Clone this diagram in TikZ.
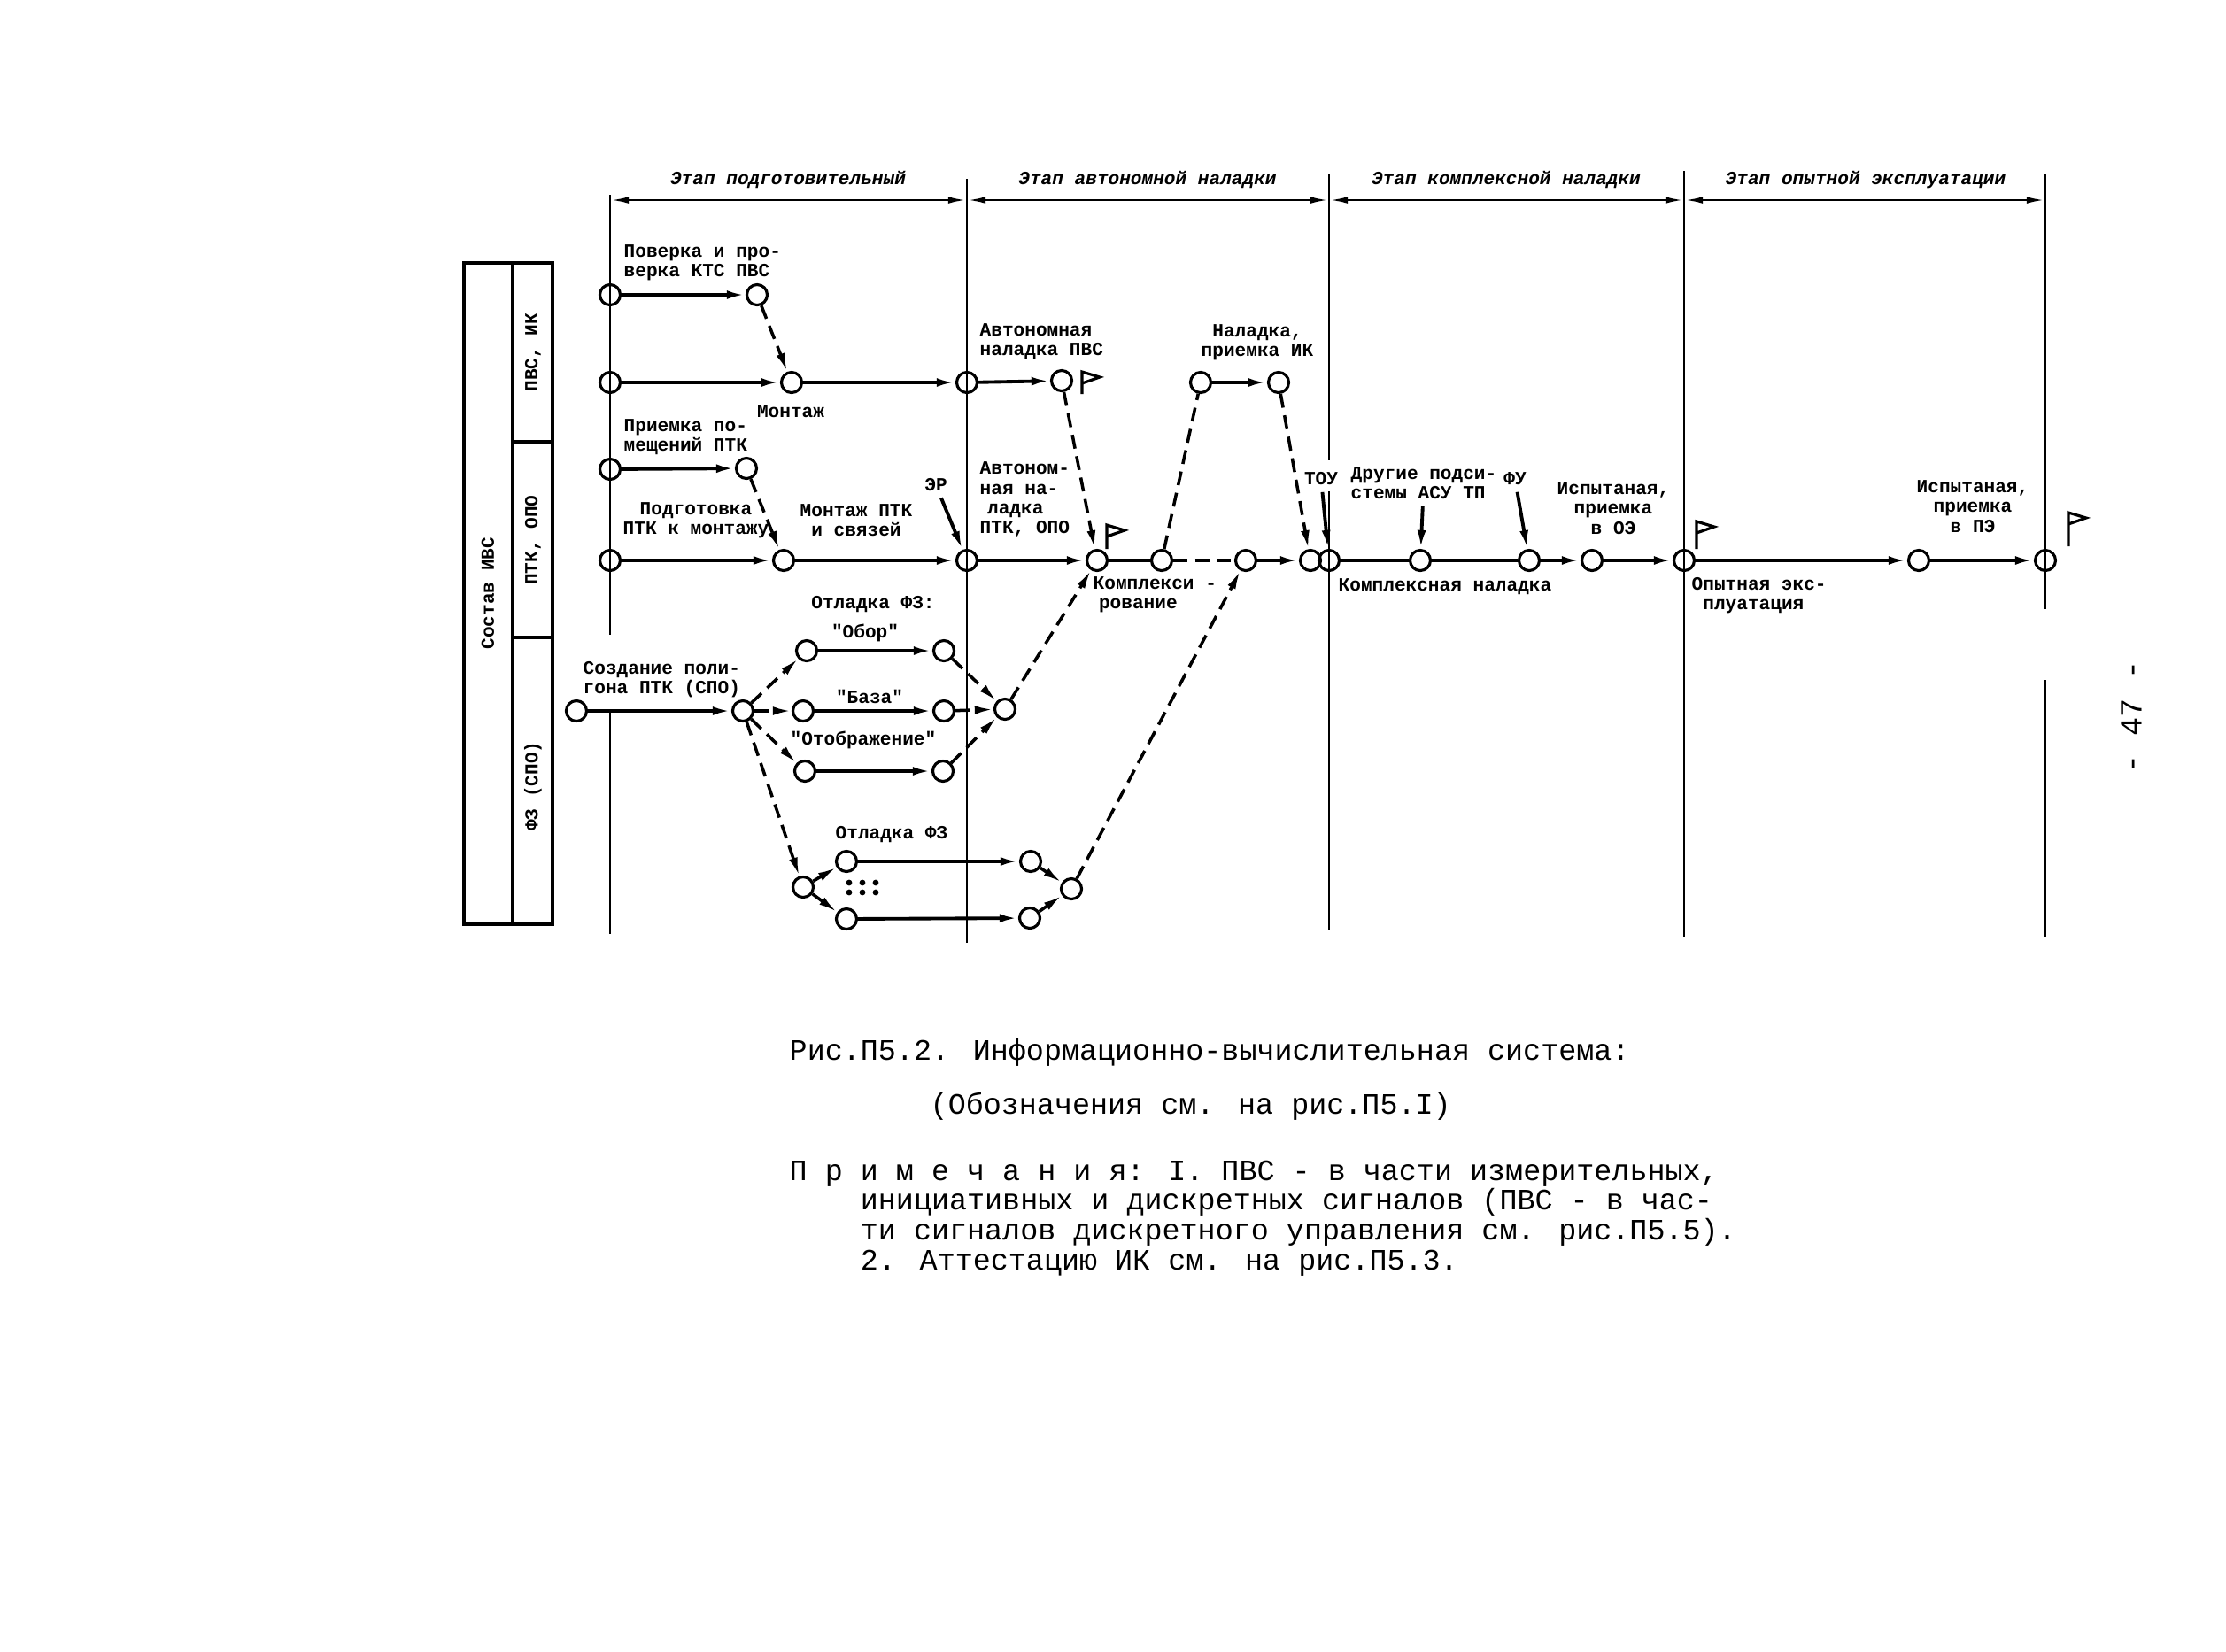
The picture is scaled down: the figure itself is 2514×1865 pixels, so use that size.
\documentclass[tikz,border=0pt]{standalone}
\usepackage{fontspec}
\setmainfont{Liberation Serif}
\newfontfamily\monof{Liberation Mono}
\usetikzlibrary{arrows.meta}

\begin{document}
\begin{tikzpicture}[x=0.01cm,y=-0.01cm,
  ev/.style={circle,draw,line width=0.9pt,minimum size=0.23cm,inner sep=0pt},
  lbl/.style={font=\monof\bfseries\fontsize{6}{6.3}\selectfont,inner sep=0pt},
  stagelbl/.style={font=\monof\bfseries\itshape\fontsize{6}{6.3}\selectfont,inner sep=0pt},
  capt/.style={font=\monof\fontsize{9.5}{9.55}\selectfont,inner sep=0pt,anchor=base west,align=left},
  arr/.style={line width=1.1pt,-{Latex[length=6pt,width=2.8pt]}},
  darr/.style={line width=1pt,dash pattern=on 4.5pt off 2.5pt,-{Latex[length=6pt,width=2.8pt]}},
  dln/.style={line width=1pt,dash pattern=on 4.5pt off 2.5pt},
  sln/.style={line width=1.1pt},
  lblarr/.style={arr,shorten <=2pt},
  stageline/.style={line width=0.8pt},
  flagline/.style={line width=0.9pt,line join=miter}]

\useasboundingbox (0,0) rectangle (2514,1865);

% stages
\draw[stageline] (689,220) -- (689,717) (689,805) -- (689,1055);
\draw[stageline] (1092,202) -- (1092,1065);
\draw[stageline] (1501,197) -- (1501,520) (1501,555) -- (1501,1050);
\draw[stageline] (1902,193) -- (1902,1058);
\draw[stageline] (2310,197) -- (2310,688) (2310,768) -- (2310,1058);
\foreach \a/\b in {689/1092,1092/1501,1501/1902,1902/2310}
  \draw[stageline,{Latex[length=6pt,width=2.2pt]}-{Latex[length=6pt,width=2.2pt]}] (\a,226) -- (\b,226);
\node[stagelbl] (st1) at (890,203) {Этап подготовительный};
\node[stagelbl] (st2) at (1296,203) {Этап автономной наладки};
\node[stagelbl] (st3) at (1701,203) {Этап комплексной наладки};
\node[stagelbl] (st4) at (2107,203) {Этап опытной эксплуатации};

% left box
\draw[line width=0.9pt] (524,297) rectangle (624,1044);
\draw[line width=0.9pt] (579,297) -- (579,1044) (579,499) -- (624,499) (579,720) -- (624,720);
\node[lbl,rotate=90] (sostav) at (551,670) {Состав ИВС};
\node[lbl,rotate=90] (grp1) at (602,398) {ПВС, ИК};
\node[lbl,rotate=90] (grp2) at (602,610) {ПТК, ОПО};
\node[lbl,rotate=90] (grp3) at (602,888) {ФЗ (СПО)};

% events
\node[ev] (n00) at (689,333) {};
\node[ev] (n01) at (855,333) {};
\node[ev] (n10) at (689,432) {};
\node[ev] (n11) at (894,432) {};
\node[ev] (n12) at (1092,432) {};
\node[ev] (n13) at (1199,430) {};
\node[ev] (n14) at (1356,432) {};
\node[ev] (n15) at (1444,432) {};
\node[ev] (n20) at (689,530) {};
\node[ev] (n21) at (843,529) {};
\node[ev] (n30) at (689,633) {};
\node[ev] (n31) at (885,633) {};
\node[ev] (n32) at (1092,633) {};
\node[ev] (n33) at (1239,633) {};
\node[ev] (n34) at (1312,633) {};
\node[ev] (n35) at (1407,633) {};
\node[ev] (n36) at (1480,633) {};
\node[ev] (n37) at (1501,633) {};
\node[ev] (n38) at (1604,633) {};
\node[ev] (n39) at (1727,633) {};
\node[ev] (n3a) at (1798,633) {};
\node[ev] (n3b) at (1902,633) {};
\node[ev] (n3c) at (2167,633) {};
\node[ev] (n3d) at (2310,633) {};

\node[ev] (s0) at (651,803) {};
\node[ev] (s1) at (839,803) {};
\node[ev] (a1) at (911,735) {};
\node[ev] (a2) at (1066,735) {};
\node[ev] (b1) at (907,803) {};
\node[ev] (b2) at (1066,803) {};
\node[ev] (c1) at (909,871) {};
\node[ev] (c2) at (1065,871) {};
\node[ev] (m) at (1135,801) {};
\node[ev] (d0) at (907,1002) {};
\node[ev] (e1) at (956,973) {};
\node[ev] (e2) at (1164,973) {};
\node[ev] (f1) at (956,1038) {};
\node[ev] (f2) at (1163,1037) {};
\node[ev] (g) at (1210,1004) {};

% labels
\node[lbl,align=left,anchor=west] (lpov) at (704,297) {Поверка и про-\\верка КТС ПВС};
\node[lbl] (lmon) at (893,465) {Монтаж};
\node[lbl,align=left,anchor=west] (lpriem) at (704,494) {Приемка по-\\мещений ПТК};
\node[lbl,align=center] (lpodg) at (786,588) {Подготовка\\ПТК к монтажу};
\node[lbl,align=center] (lmptk) at (967,588) {Монтаж ПТК\\и связей};
\node[lbl] (ler) at (1057,548) {ЭР};
\node[lbl,align=left,anchor=west] (lavpvs) at (1106,386) {Автономная\\наладка ПВС};
\node[lbl,align=center] (lnalik) at (1420,387) {Наладка,\\приемка ИК};
\node[lbl,align=left,anchor=west] (lavptk) at (1106,564) {Автоном-\\ная на-\\\hspace*{0.4em}ладка\\ПТК, ОПО};
\node[lbl] (ltou) at (1492,541) {ТОУ};
\node[lbl,align=left,anchor=west] (ldrug) at (1525,546) {Другие подси-\\стемы АСУ ТП};
\node[lbl] (lfu) at (1711,541) {ФУ};
\node[lbl,align=center] (lisp1) at (1822,574) {Испытаная,\\приемка\\в ОЭ};
\node[lbl,align=center] (lisp2) at (2228,572) {Испытаная,\\приемка\\в ПЭ};
\node[lbl,align=left,anchor=west] (lkompl) at (1234,672) {Комплекси -\\\hspace*{0.3em}рование};
\node[lbl,anchor=west] (lkn) at (1511,663) {Комплексная наладка};
\node[lbl,align=left,anchor=west] (lopyt) at (1910,673) {Опытная экс-\\\hspace*{0.6em}плуатация};
\node[lbl,align=left,anchor=west] (lsozd) at (658,768) {Создание поли-\\гона ПТК (СПО)};
\node[lbl] (lotl1) at (986,683) {Отладка ФЗ:};
\node[lbl] (lobor) at (977,715) {"Обор"};
\node[lbl] (lbaza) at (982,787) {"База"};
\node[lbl] (lotobr) at (975,836) {"Отображение"};
\node[lbl] (lotl2) at (1007,943) {Отладка ФЗ};

% connectors
\draw[arr] (n00) -- (n01);
\draw[darr] (n01) -- (n11);
\draw[arr] (n10) -- (n11);
\draw[arr] (n11) -- (n12);
\draw[arr] (n12) -- (n13);
\draw[darr] (n13) -- (n33);
\draw[arr] (n14) -- (n15);
\draw[dln] (n34) -- (n14);
\draw[darr] (n15) -- (n36);
\draw[arr] (n20) -- (n21);
\draw[darr] (n21) -- (n31);
\draw[arr] (n30) -- (n31);
\draw[arr] (n31) -- (n32);
\draw[arr] (n32) -- (n33);
\draw[sln] (n33) -- (n34);
\draw[dln] (n34) -- (n35);
\draw[arr] (n35) -- (n36);
\draw[sln] (n37) -- (n38);
\draw[sln] (n38) -- (n39);
\draw[arr] (n39) -- (n3a);
\draw[arr] (n3a) -- (n3b);
\draw[arr] (n3b) -- (n3c);
\draw[arr] (n3c) -- (n3d);

\draw[arr] (s0) -- (s1);
\foreach \t in {a1,b1,c1,d0}
  \draw[darr] (s1) -- (\t);
\draw[arr] (a1) -- (a2);
\draw[arr] (b1) -- (b2);
\draw[arr] (c1) -- (c2);
\foreach \t in {a2,b2,c2}
  \draw[darr] (\t) -- (m);
\draw[darr] (m) -- (n33);
\draw[darr] (d0) -- (e1);
\draw[darr] (d0) -- (f1);
\draw[arr] (e1) -- (e2);
\draw[arr] (f1) -- (f2);
\draw[darr] (e2) -- (g);
\draw[darr] (f2) -- (g);
\draw[darr] (g) -- (n35);

\draw[lblarr] (ler) -- (n32);
\draw[lblarr] (ltou) -- (n37);
\draw[lblarr] (ldrug) -- (n38);
\draw[lblarr] (lfu) -- (n39);

% flags and dots
\foreach \fx/\fy/\fh in {1222/445/25,1250/620/27,1916/620/31,2336/617/38}
  \draw[flagline] (\fx,\fy) -- ++(0,-\fh) -- ++(20,6) -- ++(-20,7);
\foreach \dx in {959,974,989}
  \foreach \dy in {997,1008}
    \fill (\dx,\dy) circle (0.034cm);

% caption
\node[capt] (cap1) at (891,1197) {Рис.П5.2. Информационно-вычислительная система:};
\node[capt] (cap2) at (1050,1258) {(Обозначения см. на рис.П5.I)};
\node[capt] (notes) at (891,1434) {П р и м е ч а н и я: I. ПВС - в части измерительных,\\
\hspace*{2.4em}инициативных и дискретных сигналов (ПВС - в час-\\
\hspace*{2.4em}ти сигналов дискретного управления см. рис.П5.5).\\
\hspace*{2.4em}2. Аттестацию ИК см. на рис.П5.3.};
\node[font=\monof\fontsize{10}{12}\selectfont,rotate=90] (pnum) at (2407,810) {- 47 -};
\end{tikzpicture}
\end{document}
